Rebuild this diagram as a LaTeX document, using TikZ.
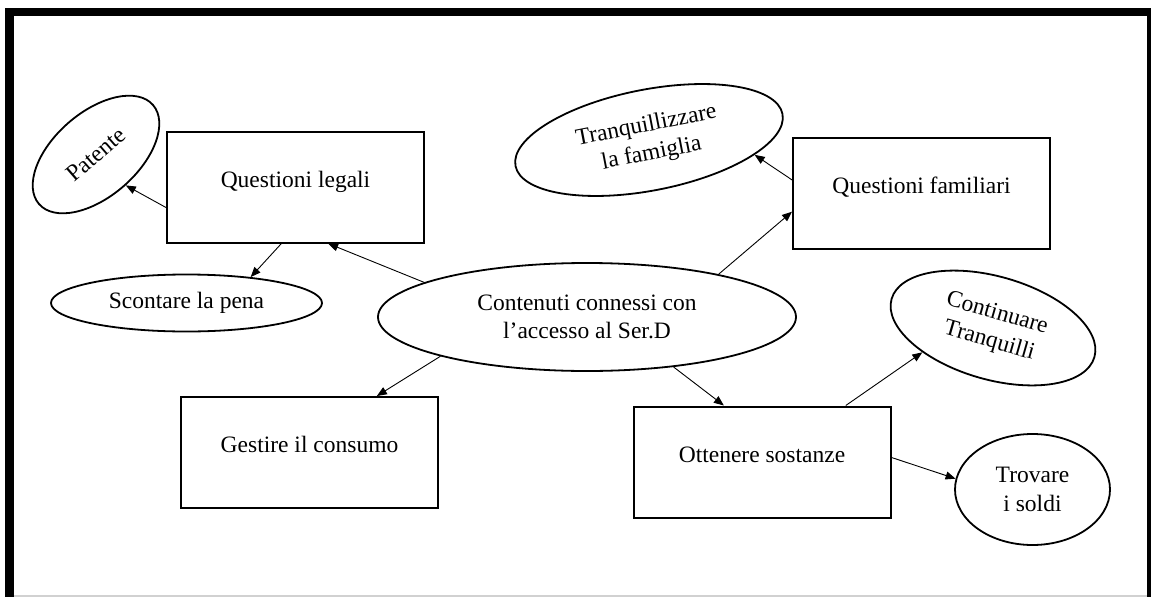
\documentclass[tikz,border=0pt]{standalone}
\usepackage{fontspec}
\setmainfont{Liberation Serif}
\usetikzlibrary{shapes.geometric,arrows.meta}

\begin{document}
\begin{tikzpicture}[x=1pt,y=-1pt,
  every node/.style={font=\fontsize{23.5}{28.5}\selectfont, inner sep=0pt, align=center},
  topic/.style={draw, line width=2pt, rectangle, minimum width=257pt, minimum height=111pt,
                text height=16pt, text depth=16pt},
  idea/.style={draw, line width=1.8pt, ellipse},
  link/.style={line width=0.9pt, -{Triangle[length=10pt,width=8pt]}},
]
\useasboundingbox (0,0) rectangle (1151,597);

% outer frame
\fill (5,8) rectangle (14,597);
\fill (5,8) rectangle (1151,16);
\fill (1147,8) rectangle (1151,597);
\fill[black!18] (14,595) rectangle (1147,597);

% themes (boxes)
\node[topic] (qlegali)  at (295.5,187)   {Questioni legali};
\node[topic] (qfam)     at (921.5,193.5) {Questioni familiari};
\node[topic] (gestire)  at (309.5,452.5) {Gestire il consumo};
\node[topic] (ottenere) at (762,462)     {Ottenere sostanze};

% central theme and sub-themes (ellipses)
\node[idea, minimum width=418pt, minimum height=108pt] (central) at (587,317)
  {Contenuti connessi con\\l’accesso al Ser.D};
\node[idea, minimum width=271pt, minimum height=57pt] (pena) at (186.5,303) {Scontare la pena};
\node[idea, minimum width=151pt, minimum height=84pt, rotate=41] (patente) at (96,154.5) {Patente};
\node[idea, minimum width=272pt, minimum height=101pt, rotate=11] (famiglia) at (649,140)
  {Tranquillizzare\\la famiglia};
\node[idea, minimum width=211pt, minimum height=103pt, rotate=-16] (tranquilli) at (993,328)
  {Continuare\\Tranquilli};
\node[idea, minimum width=155pt, minimum height=111pt] (soldi) at (1032.5,489.5)
  {Trovare\\i soldi};

% connectors
\draw[link] (central.168) -- (qlegali.300);
\draw[link] (central.195) -- (gestire.40);
\draw[link] (central.330) -- (ottenere.124);
\draw[link] (central.18)  -- (qfam.188);
\draw[link] (qlegali.189) -- (patente.273);
\draw[link] (qlegali.256) -- (pena.22);
\draw[link] (qfam.174)    -- (famiglia.341);
\draw[link] (ottenere.34) -- (tranquilli.215);
\draw[link] (ottenere.2)  -- (soldi.172);
\end{tikzpicture}
\end{document}
